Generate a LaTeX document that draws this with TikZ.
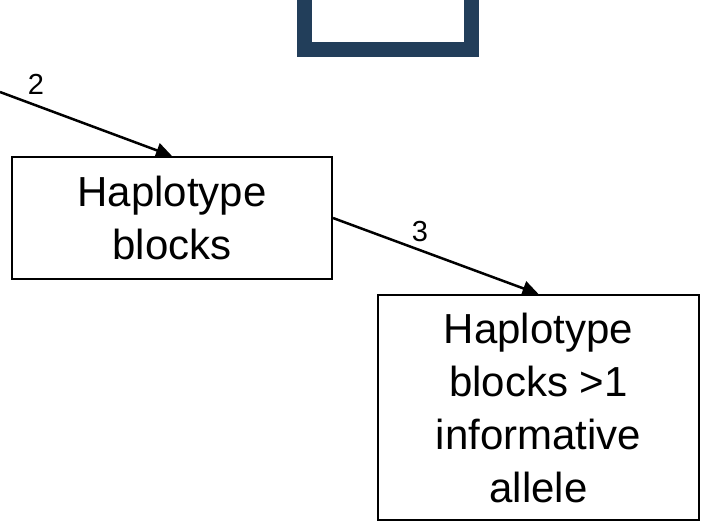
\documentclass[tikz,border=0pt]{standalone}
\usepackage{fontspec}
\setmainfont{Liberation Sans}
\usetikzlibrary{arrows.meta}

\definecolor{navy}{HTML}{223E5A}

\tikzstyle{block} = [draw=black,rectangle,line width=2pt,inner sep=0pt,align=center,font=\fontsize{42}{53}\selectfont]
\tikzstyle{frame} = [draw=navy,rectangle,line width=15pt,minimum width=167pt,minimum height=200pt]
\tikzstyle{edge} = [draw=black,line width=2.5pt,-{Triangle[length=16pt,width=15pt]}]
\tikzstyle{steplabel} = [inner sep=0pt,font=\fontsize{29}{32}\selectfont]

\begin{document}
\begin{tikzpicture}[x=1pt,y=-1pt]
    \useasboundingbox (0,0) rectangle (705,527);
    \clip (0,0) rectangle (705,527);

    \coordinate (S) at (388, -50.5);
    \coordinate (I) at (0, 92);
    \coordinate (H) at (172, 218);
    \coordinate (R) at (538.5, 407.5);

    \node [style=frame] (S) at (S) {};
    \node [style=block, minimum width=320pt, minimum height=122pt] (H) at (H) {Haplotype\\blocks};
    \node [style=block, minimum width=321pt, minimum height=225pt] (R) at (R) {Haplotype\\blocks >1\\informative\\allele};

    \node [style=steplabel] (two) at (36, 84) {2};
    \node [style=steplabel] (three) at (420, 232) {3};

    \draw [style=edge] (I) -- (H.north);
    \draw [style=edge] (H.east) -- (R.north);
\end{tikzpicture}
\end{document}
